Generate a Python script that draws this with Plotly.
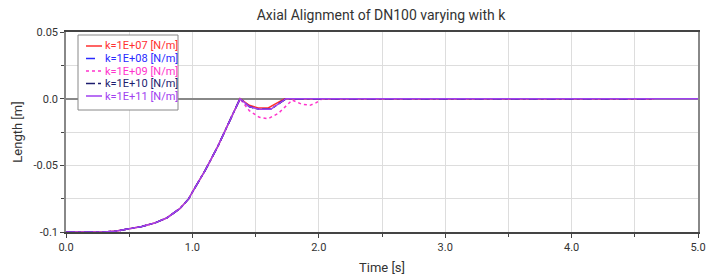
import plotly.graph_objects as go

# shared rise portion
t_rise = [0.0, 0.3, 0.4, 0.5, 0.6, 0.7, 0.8, 0.9, 0.97, 1.0, 1.1, 1.2, 1.3, 1.377]
y_rise = [-0.1, -0.1, -0.0993, -0.0978, -0.0958, -0.0933, -0.0893, -0.0825, -0.0752, -0.070, -0.054, -0.036, -0.016, 0.0]

t_k7 = [1.45, 1.52, 1.60, 1.73, 4.65]
y_k7 = [-0.005, -0.007, -0.007, 0.0, 0.0]
t_k8 = [1.45, 1.53, 1.62, 1.74, 4.65]
y_k8 = [-0.006, -0.008, -0.008, 0.0, 0.0]
t_k9 = [1.45, 1.53, 1.60, 1.68, 1.79, 1.86, 1.93, 1.98, 2.03, 4.65]
y_k9 = [-0.009, -0.014, -0.015, -0.011, -0.001, -0.004, -0.005, -0.003, 0.0, 0.0]
t_k10 = [1.45, 1.53, 1.62, 1.74, 4.65]
y_k10 = [-0.006, -0.008, -0.008, 0.0, 0.0]
t_k11 = [1.45, 1.53, 1.62, 1.74, 5.0]
y_k11 = [-0.006, -0.008, -0.008, 0.0, 0.0]

names = ["k=1E+07 [N/m]", "k=1E+08 [N/m]", "k=1E+09 [N/m]", "k=1E+10 [N/m]", "k=1E+11 [N/m]"]
colors = ["#ff3030", "#2a2aff", "#ff33cc", "#1c1c6e", "#a040f0"]
dashes = ["solid", "dash", "dot", "dashdot", "solid"]
series_t = [t_k7, t_k8, t_k9, t_k10, t_k11]
series_y = [y_k7, y_k8, y_k9, y_k10, y_k11]

x_ticks = [0, 1, 2, 3, 4, 5]
x_labels = ["0.0", "1.0", "2.0", "3.0", "4.0", "5.0"]
y_ticks = [0.05, 0.0, -0.05, -0.1]
y_labels = ["0.05", "0.0", "-0.05", "-0.1"]

W, H = 720, 276
L, R, T, B = 66, 22, 32, 44
pw, ph = W - L - R, H - T - B


def px(x):
    return (x - L) / pw


def py(y):
    return (H - B - y) / ph


fig = go.Figure()
for name, c, d, ts, ys in zip(names, colors, dashes, series_t, series_y):
    fig.add_trace(go.Scatter(
        x=t_rise + ts, y=y_rise + ys, mode="lines", name=name, showlegend=False,
        line=dict(color=c, width=1.5, dash=d),
    ))

# custom legend box (decoration)
shapes = [dict(type="rect", xref="paper", yref="paper",
               x0=px(78), x1=px(178), y0=py(110), y1=py(35),
               fillcolor="white", line=dict(color="#888888", width=1), layer="above")]
annotations = []
row_y = [46, 58.5, 71, 83.5, 96]
for name, c, d, ry in zip(names, colors, dashes, row_y):
    shapes.append(dict(type="line", xref="paper", yref="paper",
                       x0=px(86), x1=px(102), y0=py(ry), y1=py(ry),
                       line=dict(color=c, width=1.5, dash=d), layer="above"))
    annotations.append(dict(xref="paper", yref="paper", x=px(103), y=py(ry),
                            xanchor="left", yanchor="middle", showarrow=False,
                            text=name, font=dict(size=11, color=c)))

fig.update_layout(
    width=W, height=H,
    margin=dict(l=L, r=R, t=T, b=B),
    plot_bgcolor="white", paper_bgcolor="white",
    font=dict(family="Roboto, Liberation Sans, Arial", size=11, color="#333333"),
    title=dict(text="Axial Alignment of DN100 varying with k", x=381 / W, xanchor="center",
               y=1 - 15 / H, yanchor="middle", font=dict(size=14, color="#333333")),
    showlegend=False,
    shapes=shapes,
    annotations=annotations,
    xaxis=dict(range=[0, 5], tickvals=x_ticks, ticktext=x_labels, automargin=False,
               showgrid=True, gridcolor="#dddddd", gridwidth=1,
               showline=True, linecolor="#444444", linewidth=1.5, mirror=True,
               ticks="outside", ticklen=4, tickcolor="#444444",
               minor=dict(dtick=0.5, tick0=0, showgrid=True, gridcolor="#dddddd",
                          ticks="outside", ticklen=3, tickcolor="#444444"),
               title=dict(text="Time [s]", font=dict(size=13, color="#333333"), standoff=10),
               zeroline=False),
    yaxis=dict(range=[-0.1, 0.05], tickvals=y_ticks, ticktext=y_labels, automargin=False,
               showgrid=True, gridcolor="#dddddd", gridwidth=1,
               showline=True, linecolor="#888888", linewidth=1.5, mirror=True,
               ticks="outside", ticklen=4, tickcolor="#444444",
               minor=dict(dtick=0.025, tick0=0, showgrid=True, gridcolor="#dddddd",
                          ticks="outside", ticklen=3, tickcolor="#444444"),
               title=dict(text="Length [m]", font=dict(size=13, color="#333333"), standoff=8),
               zeroline=True, zerolinecolor="#888888", zerolinewidth=1.5),
)

fig.write_html("out.html", config={"displayModeBar": False},
               post_script="document.body.style.margin='0';")
